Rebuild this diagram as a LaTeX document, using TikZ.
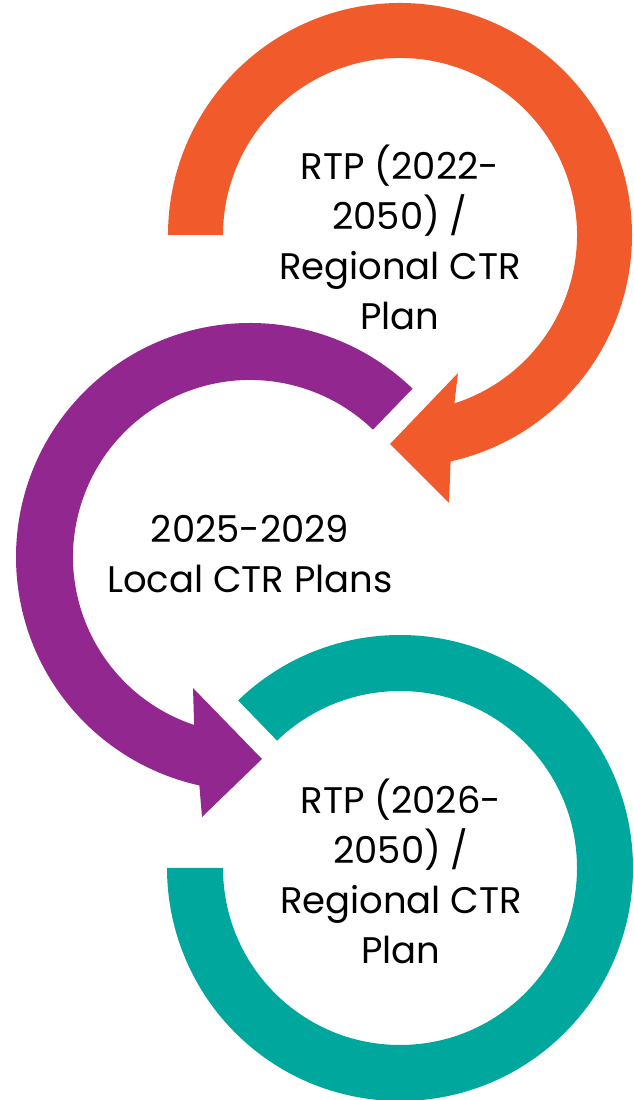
\documentclass[tikz,border=0pt]{standalone}
\usepackage{fontspec}
\setmainfont{Poppins}
\definecolor{cOrange}{HTML}{F15A2B}
\definecolor{cPurple}{HTML}{92278F}
\definecolor{cTeal}{HTML}{00A79D}
\tikzset{
  label text/.style={align=center, text=black, inner sep=0pt, font=\fontsize{37}{50}\selectfont},
}
\begin{document}
\begin{tikzpicture}[x=1pt,y=1pt]
\useasboundingbox (0,0) rectangle (634,1100);
% orange circular arrow
\coordinate (oc) at (400,865);
\fill[cOrange] ([shift={(oc)}]180:232pt) arc[start angle=180,end angle=-77.4,radius=232pt]
  -- (449,597) -- (390,656) -- (458,727)
  -- ([shift={(oc)}]-72.1:177pt) arc[start angle=-72.1,end angle=180,radius=177pt] -- cycle;
% purple circular arrow
\coordinate (pc) at (250,543);
\fill[cPurple] ([shift={(pc)}]46:234pt) arc[start angle=46,end angle=257.5,radius=234pt]
  -- (202,283) -- (262,341) -- (193,412)
  -- ([shift={(pc)}]251.6:177pt) arc[start angle=251.6,end angle=46,radius=177pt] -- cycle;
% teal arc
\coordinate (tc) at (400,232);
\fill[cTeal] ([shift={(tc)}]134:233pt) arc[start angle=134,end angle=-180,radius=233pt]
  -- ([shift={(tc)}]180:177pt) arc[start angle=-180,end angle=134,radius=177pt] -- cycle;
% texts
\node[label text] (t1) at (400,863) {RTP (2022-\\2050) /\\Regional CTR\\Plan};
\node[label text] (t2) at (250,546) {2025-2029\\Local CTR Plans};
\node[label text] (t3) at (401,229) {RTP (2026-\\2050) /\\Regional CTR\\Plan};
\end{tikzpicture}
\end{document}
